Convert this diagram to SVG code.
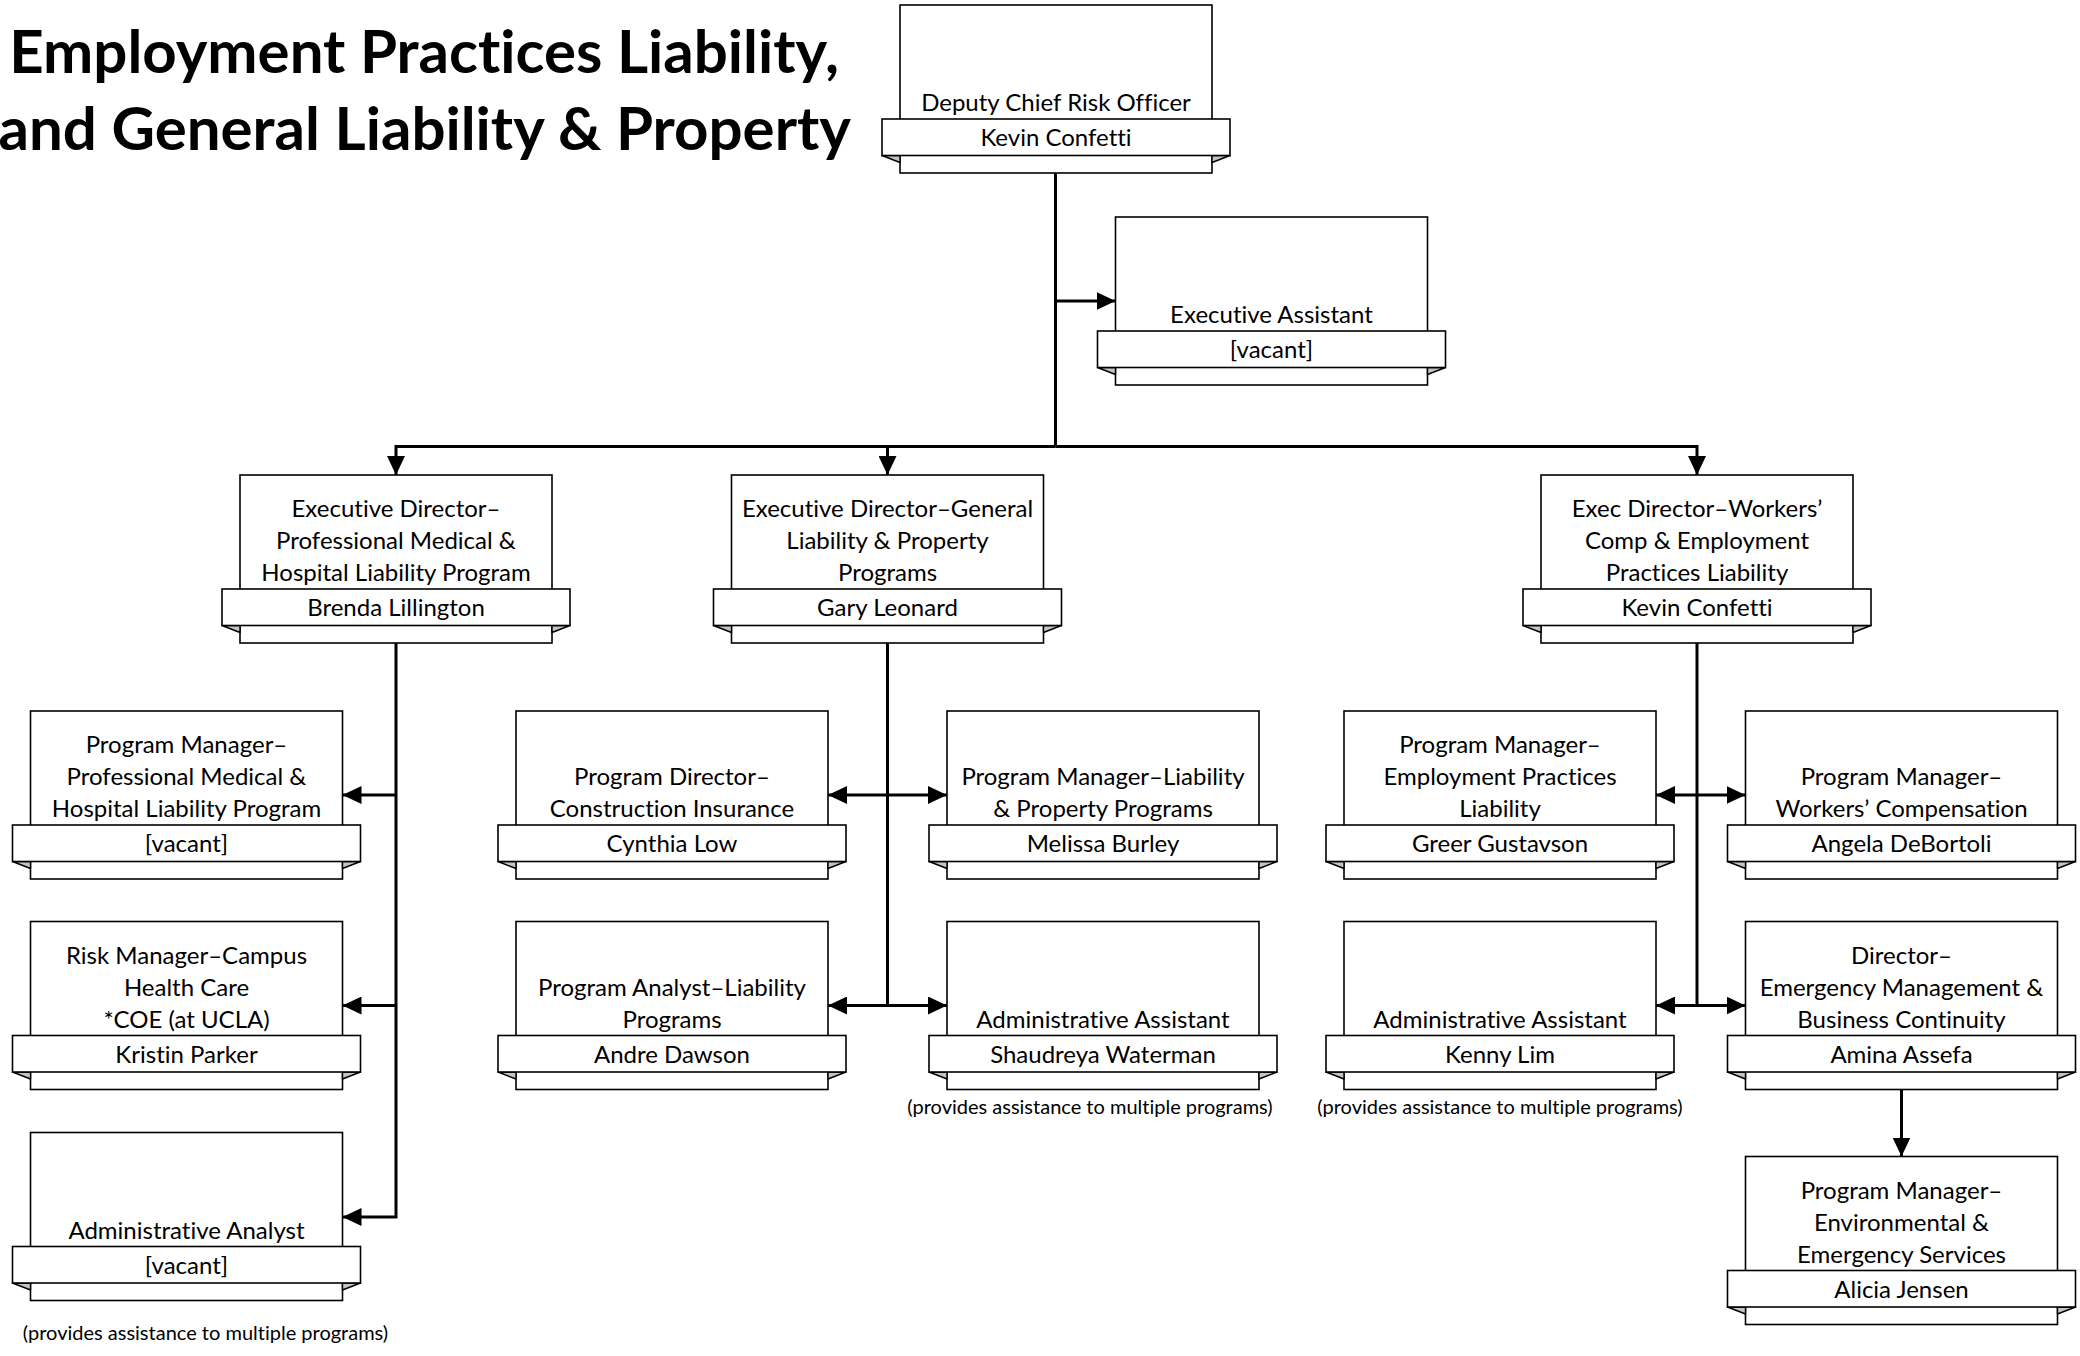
<svg xmlns="http://www.w3.org/2000/svg" xmlns:xlink="http://www.w3.org/1999/xlink" width="2080" height="1356" viewBox="0 0 2080 1356">
<style>
.box{fill:#fff;stroke:#000;stroke-width:1.6}
.fold{fill:#c4c4c4;stroke:#000;stroke-width:1.4;stroke-linejoin:round}
text{font-variant-ligatures:none;font-feature-settings:"liga" 0,"dlig" 0}
.t{font-family:Lato,"Liberation Sans",sans-serif;font-size:24px;fill:#000;text-anchor:middle}
.fn{font-family:Lato,"Liberation Sans",sans-serif;font-size:20px;fill:#000;text-anchor:middle}
.title{font-family:Lato,"Liberation Sans",sans-serif;font-weight:bold;font-size:60px;fill:#000;text-anchor:end}
.c{fill:none;stroke:#000;stroke-width:3}
.a{marker-end:url(#arr)}
.d{marker-start:url(#arr);marker-end:url(#arr)}
</style>
<defs>
<marker id="arr" viewBox="0 0 19 18" refX="19" refY="9" markerWidth="19" markerHeight="18" markerUnits="userSpaceOnUse" orient="auto-start-reverse">
<path d="M0,0 L19,9 L0,18 z" fill="#000"/>
</marker>
<g id="card">
<rect class="box" x="0" y="0" width="312" height="168"/>
<polygon class="fold" points="-18,150.5 0,157.5 0,150.5"/>
<polygon class="fold" points="330,150.5 312,157.5 312,150.5"/>
<rect class="box" x="-18" y="114" width="348" height="36.5"/>
</g>
</defs>
<rect width="2080" height="1356" fill="#fff"/>

<g id="title">
<text class="title" x="839" y="73">Employment Practices Liability,</text>
<text class="title" x="851" y="150">and General Liability &amp; Property</text>
</g>

<g id="connectors">
<path class="c" d="M1055.5,173 V446.5"/>
<path class="c a" d="M1055.5,301 H1115.5"/>
<path class="c a" d="M1055.5,446.5 H396 V475"/>
<path class="c a" d="M1055.5,446.5 H1697 V475"/>
<path class="c a" d="M887.5,446.5 V475"/>
<path class="c a" d="M396,643 V1217 H342.5"/>
<path class="c a" d="M396,795 H342.5"/>
<path class="c a" d="M396,1005.5 H342.5"/>
<path class="c" d="M887.5,643 V1005.5"/>
<path class="c d" d="M828,795 H947"/>
<path class="c d" d="M828,1005.5 H947"/>
<path class="c" d="M1697,643 V1005.5"/>
<path class="c d" d="M1656,795 H1745.5"/>
<path class="c d" d="M1656,1005.5 H1745.5"/>
<path class="c a" d="M1901.5,1089.5 V1156.5"/>
</g>

<g id="n-deputy" transform="translate(900,5)">
<use xlink:href="#card"/>
<text class="t" x="156" y="106">Deputy Chief Risk Officer</text>
<text class="t" x="156" y="141">Kevin Confetti</text>
</g>

<g id="n-exec-assistant" transform="translate(1115.5,217)">
<use xlink:href="#card"/>
<text class="t" x="156" y="106">Executive Assistant</text>
<text class="t" x="156" y="141">[vacant]</text>
</g>

<g id="n-ed-medical" transform="translate(240,475)">
<use xlink:href="#card"/>
<text class="t" x="156" y="42">Executive Director–</text>
<text class="t" x="156" y="74">Professional Medical &amp;</text>
<text class="t" x="156" y="106">Hospital Liability Program</text>
<text class="t" x="156" y="141">Brenda Lillington</text>
</g>

<g id="n-ed-general" transform="translate(731.5,475)">
<use xlink:href="#card"/>
<text class="t" x="156" y="42">Executive Director–General</text>
<text class="t" x="156" y="74">Liability &amp; Property</text>
<text class="t" x="156" y="106">Programs</text>
<text class="t" x="156" y="141">Gary Leonard</text>
</g>

<g id="n-ed-workers" transform="translate(1541,475)">
<use xlink:href="#card"/>
<text class="t" x="156" y="42">Exec Director–Workers’</text>
<text class="t" x="156" y="74">Comp &amp; Employment</text>
<text class="t" x="156" y="106">Practices Liability</text>
<text class="t" x="156" y="141">Kevin Confetti</text>
</g>

<g id="n-pm-medical" transform="translate(30.5,711)">
<use xlink:href="#card"/>
<text class="t" x="156" y="42">Program Manager–</text>
<text class="t" x="156" y="74">Professional Medical &amp;</text>
<text class="t" x="156" y="106">Hospital Liability Program</text>
<text class="t" x="156" y="141">[vacant]</text>
</g>

<g id="n-risk-manager" transform="translate(30.5,921.5)">
<use xlink:href="#card"/>
<text class="t" x="156" y="42">Risk Manager–Campus</text>
<text class="t" x="156" y="74">Health Care</text>
<text class="t" x="156" y="106">*COE (at UCLA)</text>
<text class="t" x="156" y="141">Kristin Parker</text>
</g>

<g id="n-admin-analyst" transform="translate(30.5,1132.5)">
<use xlink:href="#card"/>
<text class="t" x="156" y="106">Administrative Analyst</text>
<text class="t" x="156" y="141">[vacant]</text>
<text class="fn" x="175" y="207">(provides assistance to multiple programs)</text>
</g>

<g id="n-pd-construction" transform="translate(516,711)">
<use xlink:href="#card"/>
<text class="t" x="156" y="74">Program Director–</text>
<text class="t" x="156" y="106">Construction Insurance</text>
<text class="t" x="156" y="141">Cynthia Low</text>
</g>

<g id="n-pm-liability" transform="translate(947,711)">
<use xlink:href="#card"/>
<text class="t" x="156" y="74">Program Manager–Liability</text>
<text class="t" x="156" y="106">&amp; Property Programs</text>
<text class="t" x="156" y="141">Melissa Burley</text>
</g>

<g id="n-pa-liability" transform="translate(516,921.5)">
<use xlink:href="#card"/>
<text class="t" x="156" y="74">Program Analyst–Liability</text>
<text class="t" x="156" y="106">Programs</text>
<text class="t" x="156" y="141">Andre Dawson</text>
</g>

<g id="n-admin-assistant-1" transform="translate(947,921.5)">
<use xlink:href="#card"/>
<text class="t" x="156" y="106">Administrative Assistant</text>
<text class="t" x="156" y="141">Shaudreya Waterman</text>
<text class="fn" x="143" y="192">(provides assistance to multiple programs)</text>
</g>

<g id="n-pm-employment" transform="translate(1344,711)">
<use xlink:href="#card"/>
<text class="t" x="156" y="42">Program Manager–</text>
<text class="t" x="156" y="74">Employment Practices</text>
<text class="t" x="156" y="106">Liability</text>
<text class="t" x="156" y="141">Greer Gustavson</text>
</g>

<g id="n-pm-workers" transform="translate(1745.5,711)">
<use xlink:href="#card"/>
<text class="t" x="156" y="74">Program Manager–</text>
<text class="t" x="156" y="106">Workers’ Compensation</text>
<text class="t" x="156" y="141">Angela DeBortoli</text>
</g>

<g id="n-admin-assistant-2" transform="translate(1344,921.5)">
<use xlink:href="#card"/>
<text class="t" x="156" y="106">Administrative Assistant</text>
<text class="t" x="156" y="141">Kenny Lim</text>
<text class="fn" x="156" y="192">(provides assistance to multiple programs)</text>
</g>

<g id="n-dir-emergency" transform="translate(1745.5,921.5)">
<use xlink:href="#card"/>
<text class="t" x="156" y="42">Director–</text>
<text class="t" x="156" y="74">Emergency Management &amp;</text>
<text class="t" x="156" y="106">Business Continuity</text>
<text class="t" x="156" y="141">Amina Assefa</text>
</g>

<g id="n-pm-environmental" transform="translate(1745.5,1156.5)">
<use xlink:href="#card"/>
<text class="t" x="156" y="42">Program Manager–</text>
<text class="t" x="156" y="74">Environmental &amp;</text>
<text class="t" x="156" y="106">Emergency Services</text>
<text class="t" x="156" y="141">Alicia Jensen</text>
</g>
</svg>
